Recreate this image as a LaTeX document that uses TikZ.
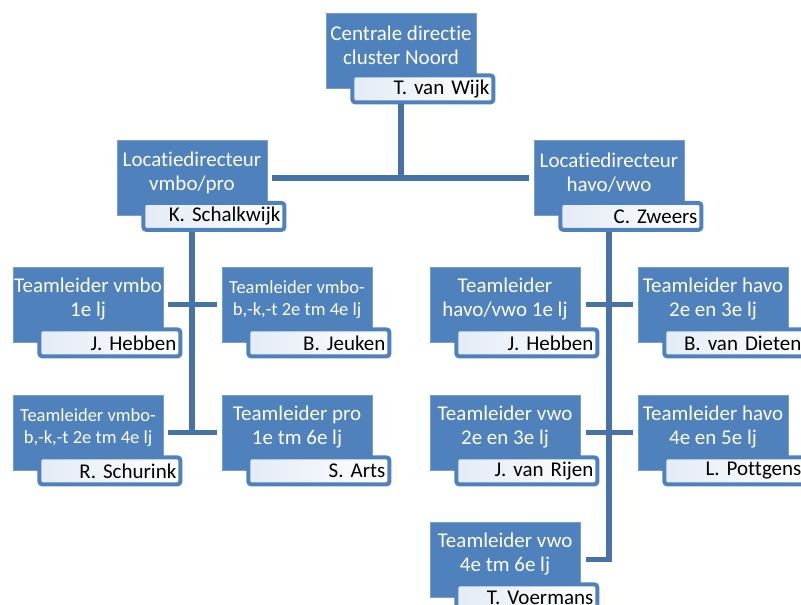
\documentclass[tikz,border=0pt]{standalone}
\usepackage{fontspec}
\setmainfont{Carlito}[Ligatures={NoCommon}]
\usepackage{tikz}

\definecolor{boxblue}{HTML}{4F81BD}
\definecolor{boxedge}{HTML}{7A9CCB}
\definecolor{linkblue}{HTML}{4672A8}
\definecolor{namefill}{HTML}{E3EBF5}

\tikzset{
  unit/.style={rectangle, fill=boxblue, draw=boxedge, line width=0.8pt,
    minimum width=150pt, minimum height=75pt, inner sep=0pt},
  unittxt/.style={text=white, align=center, inner sep=0pt, yshift=5pt,
    font=\fontsize{21}{24}\selectfont},
  smalltxt/.style={unittxt, font=\fontsize{18.5}{22}\selectfont},
  person/.style={rectangle, rounded corners=3pt, draw=boxblue, line width=4pt,
    left color=namefill, right color=white, minimum width=141pt, minimum height=27pt,
    text width=133pt, align=right, inner xsep=4pt, inner ysep=0pt,
    font=\fontsize{21}{24}\selectfont, anchor=north east, xshift=19pt, yshift=15pt},
  link/.style={draw=linkblue, line width=5.5pt, line join=miter}
}

\begin{document}
\begin{tikzpicture}[x=1pt,y=-1pt]
\clip (0,0) rectangle (801,605);

% top
\node[unit, label={[unittxt]center:Centrale directie\\cluster Noord}] (cd) at (401,50.5) {};
\node[person] (cdp) at (cd.south east) {T. van Wijk};

% locatiedirecteuren
\node[unit, label={[unittxt]center:Locatiedirecteur\\vmbo/pro}] (ldl) at (192,178) {};
\node[person] (ldlp) at (ldl.south east) {K. Schalkwijk};
\node[unit, label={[unittxt]center:Locatiedirecteur\\havo/vwo}] (ldr) at (609,178) {};
\node[person] (ldrp) at (ldr.south east) {C. Zweers};

% teamleiders vmbo/pro
\node[unit, label={[unittxt]center:Teamleider vmbo\\1e lj}] (tl1) at (88,304.5) {};
\node[person] (tl1p) at (tl1.south east) {J. Hebben};
\node[unit, label={[smalltxt]center:{Teamleider vmbo-\\b,-k,-t 2e tm 4e lj}}] (tl2) at (297,304.5) {};
\node[person] (tl2p) at (tl2.south east) {B. Jeuken};
\node[unit, label={[smalltxt]center:{Teamleider vmbo-\\b,-k,-t 2e tm 4e lj}}] (tl3) at (88,432.5) {};
\node[person] (tl3p) at (tl3.south east) {R. Schurink};
\node[unit, label={[unittxt]center:Teamleider pro\\1e tm 6e lj}] (tl4) at (297,432.5) {};
\node[person] (tl4p) at (tl4.south east) {S. Arts};

% teamleiders havo/vwo
\node[unit, label={[unittxt]center:Teamleider\\havo/vwo 1e lj}] (tr1) at (505,304.5) {};
\node[person] (tr1p) at (tr1.south east) {J. Hebben};
\node[unit, label={[unittxt]center:Teamleider havo\\2e en 3e lj}] (tr2) at (713,304.5) {};
\node[person] (tr2p) at (tr2.south east) {B. van Dieten};
\node[unit, label={[unittxt]center:Teamleider vwo\\2e en 3e lj}] (tr3) at (505,432.5) {};
\node[person] (tr3p) at (tr3.south east) {J. van Rijen};
\node[unit, label={[unittxt]center:Teamleider havo\\4e en 5e lj}] (tr4) at (713,432.5) {};
\node[person] (tr4p) at (tr4.south east) {L. Pottgens};
\node[unit, label={[unittxt]center:Teamleider vwo\\4e tm 6e lj}] (tr5) at (505,559.5) {};
\node[person] (tr5p) at (tr5.south east) {T. Voermans};

% lines
\draw[link] (cdp.south -| cd.south) -- (cd |- ldl.east);
\draw[link, shorten <=5pt, shorten >=5pt] (ldl.east) -- (ldr.west);
\draw[link] (ldlp.south -| ldl.south) -- (ldl |- tl3.east);
\draw[link, shorten <=5pt, shorten >=5pt] (tl1.east) -- (tl2.west);
\draw[link, shorten <=5pt, shorten >=5pt] (tl3.east) -- (tl4.west);
\draw[link, shorten >=6pt] (ldrp.south -| ldr.south) |- (tr5.east);
\draw[link, shorten <=6pt, shorten >=5pt] (tr1.east) -- (tr2.west);
\draw[link, shorten <=6pt, shorten >=5pt] (tr3.east) -- (tr4.west);
\end{tikzpicture}
\end{document}
